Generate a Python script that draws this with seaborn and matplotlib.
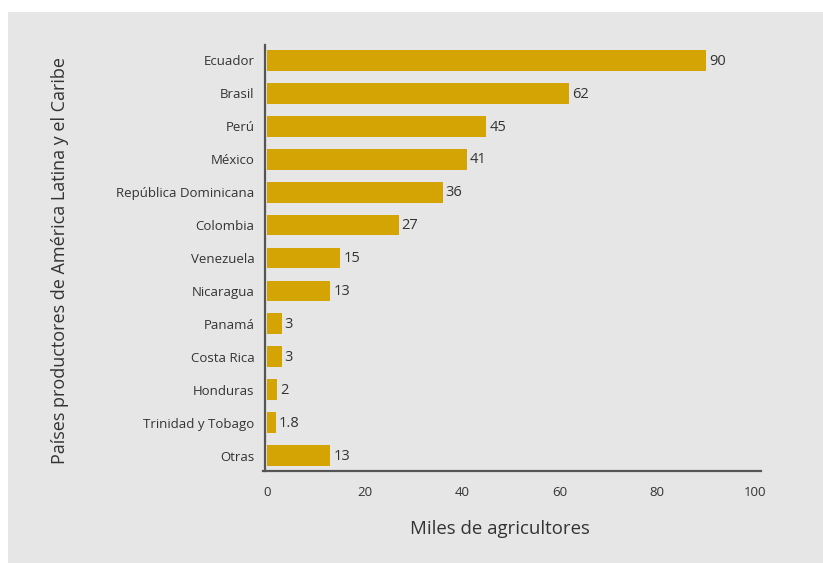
import matplotlib
matplotlib.use("Agg")
import matplotlib.pyplot as plt
from matplotlib.patches import Rectangle
import seaborn as sns
import pandas as pd

countries = [
    "Ecuador", "Brasil", "Perú", "México", "República Dominicana", "Colombia",
    "Venezuela", "Nicaragua", "Panamá", "Costa Rica", "Honduras",
    "Trinidad y Tobago", "Otras",
]
farmers = [90, 62, 45, 41, 36, 27, 15, 13, 3, 3, 2, 1.8, 13]
value_labels = ["90", "62", "45", "41", "36", "27", "15", "13", "3", "3", "2", "1.8", "13"]
x_ticks = [0, 20, 40, 60, 80, 100]

BAR = "#d4a304"
PANEL = "#e6e6e6"
TEXT = "#333333"
SPINE = "#555555"

sns.set_theme(style="white")
plt.rcParams["font.family"] = ["Open Sans", "DejaVu Sans"]

df = pd.DataFrame({"pais": countries, "miles": farmers})

fig = plt.figure(figsize=(8.23, 5.63), dpi=100, facecolor="white")
fig.patches.append(Rectangle((8 / 823, 0), 1, 1 - 12 / 563, transform=fig.transFigure,
                             facecolor=PANEL, edgecolor="none", zorder=-10))

W, H = 823, 563
ax = fig.add_axes([263 / W, 1 - 471 / H, (761 - 263) / W, (471 - 45) / H])
ax.set_facecolor("none")

sns.barplot(data=df, x="miles", y="pais", order=countries, color=BAR,
            width=0.63, saturation=1, linewidth=0, ax=ax)

for i, (v, lab) in enumerate(zip(farmers, value_labels)):
    ax.annotate(lab, (v, i), xytext=(2.2, -0.5), textcoords="offset points",
                ha="left", va="center", fontsize=10.5, color=TEXT)

ax.set_xlim(-0.82, 101.3)
ax.set_ylim(12.47, -0.47)
ax.set_xticks(x_ticks)
ax.set_xticklabels([str(t) for t in x_ticks])
ax.set_xlabel("")
ax.set_ylabel("")

for s in ["top", "right"]:
    ax.spines[s].set_visible(False)
for s in ["left", "bottom"]:
    ax.spines[s].set_color(SPINE)
    ax.spines[s].set_linewidth(1.6)
ax.spines["left"].set_position(("data", -0.4))

ax.tick_params(axis="x", direction="inout", length=9, width=1, color=SPINE,
               labelsize=9.5, labelcolor=TEXT, pad=6)
ax.tick_params(axis="y", length=0, labelsize=9.5, labelcolor=TEXT, pad=7.5)

fig.text(500 / W, 1 - 529 / H, "Miles de agricultores", ha="center", va="center",
         fontsize=13.4, color=TEXT)
fig.text(60 / W, 1 - 260 / H, "Países productores de América Latina y el Caribe",
         ha="center", va="center", rotation=90, fontsize=13, color=TEXT)

fig.savefig("out.png", dpi=100, facecolor="white")
